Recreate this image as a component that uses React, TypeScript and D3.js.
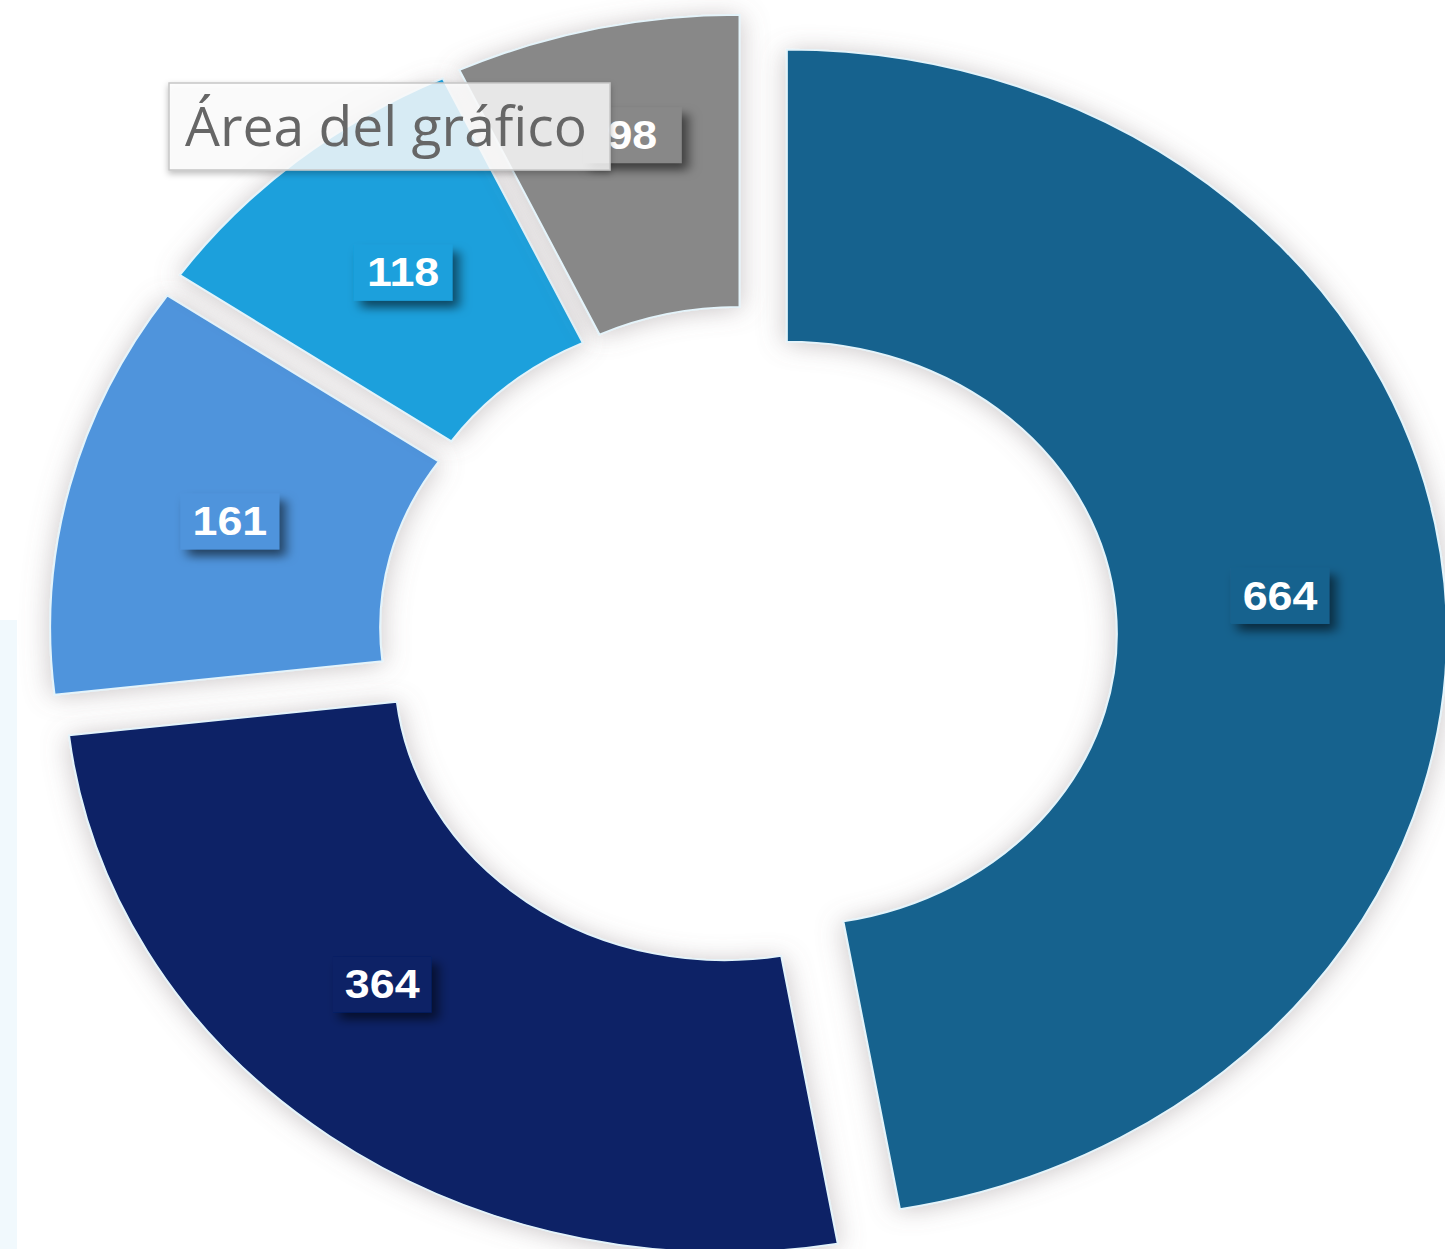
import React from "react";
import * as d3 from "d3";

// slice values, clockwise from 12 o'clock
const categories = ["Categoría 1", "Categoría 2", "Categoría 3", "Categoría 4", "Categoría 5"];
const values = [664, 364, 161, 118, 98];
const colors = ["#17628e", "#0a2266", "#5094dc", "#1ea0dc", "#888888"];
const tooltipText = "Área del gráfico";

// layout
const W = 1445;
const H = 1249;
const cx = 748;
const cy = 637;
const outerR = 660;
const innerR = 330;
const squash = 0.885; // picture is wider than tall
const explode = 39;
const textStretch = 1.12;
// small label nudges (degrees / px) to sit where the original put them
const labelDAngle = [0, 7, 0, 0, 1];
const labelDR = [0, 0, 0, 0, 40];

export default function App() {
  const pie = d3
    .pie<number>()
    .sort(null)
    .startAngle(0)
    .endAngle(2 * Math.PI);
  const arcs = pie(values);

  const arc = d3
    .arc<d3.PieArcDatum<number>>()
    .innerRadius(innerR)
    .outerRadius(outerR);

  const rm = (innerR + outerR) / 2;

  return (
    <svg
      width={W}
      height={H}
      style={{ position: "absolute", left: 0, top: 0, background: "#fff" }}
    >
      <defs>
        <filter id="glow" x="-20%" y="-20%" width="140%" height="140%">
          <feDropShadow dx="0" dy="2" stdDeviation="14" floodColor="#7a6f72" floodOpacity="0.4" />
        </filter>
        <filter id="boxShadow" x="-30%" y="-30%" width="170%" height="170%">
          <feDropShadow dx="6" dy="7" stdDeviation="5" floodColor="#000" floodOpacity="0.55" />
        </filter>
        <filter id="tipShadow" x="-10%" y="-20%" width="120%" height="160%">
          <feDropShadow dx="0" dy="3" stdDeviation="3" floodColor="#000" floodOpacity="0.3" />
        </filter>
      </defs>

      <rect x={0} y={620} width={17} height={H - 620} fill="#f1f9fd" />

      {arcs.map((a, i) => {
        const mid = (a.startAngle + a.endAngle) / 2;
        const ox = explode * Math.sin(mid);
        const oy = -explode * Math.cos(mid);
        return (
          <g key={categories[i]} transform={`translate(${cx + ox},${cy + oy}) scale(1,${squash})`}>
            <path
              d={arc(a) || ""}
              fill={colors[i]}
              stroke="#e4f4fb"
              strokeWidth={2}
              filter="url(#glow)"
            />
          </g>
        );
      })}

      {arcs.map((a, i) => {
        const mid = (a.startAngle + a.endAngle) / 2;
        const ox = explode * Math.sin(mid);
        const oy = -explode * Math.cos(mid);
        const la = mid + (labelDAngle[i] * Math.PI) / 180;
        const r = rm + labelDR[i];
        const x = cx + ox + r * Math.sin(la);
        const y = cy + oy - r * squash * Math.cos(la);
        return (
          <g key={"l" + i} transform={`translate(${x},${y}) scale(${textStretch},1)`}>
            <rect x={-44} y={-28} width={88} height={56} fill={colors[i]} filter="url(#boxShadow)" />
            <text
              x={0}
              y={0}
              textAnchor="middle"
              dominantBaseline="central"
              fill="#fff"
              fontFamily="'Liberation Sans', Arial, sans-serif"
              fontWeight="bold"
              fontSize={40}
            >
              {values[i]}
            </text>
          </g>
        );
      })}

      <g>
        <rect
          x={169}
          y={83}
          width={441}
          height={87}
          fill="#ffffff"
          fillOpacity={0.8}
          stroke="#c6c6c6"
          strokeWidth={1.5}
          filter="url(#tipShadow)"
        />
        <text
          x={185}
          y={146}
          fill="#666666"
          fontFamily="'Open Sans', 'Noto Sans', sans-serif"
          fontSize={54}
          textLength={402}
          lengthAdjust="spacingAndGlyphs"
        >
          {tooltipText}
        </text>
      </g>
    </svg>
  );
}
